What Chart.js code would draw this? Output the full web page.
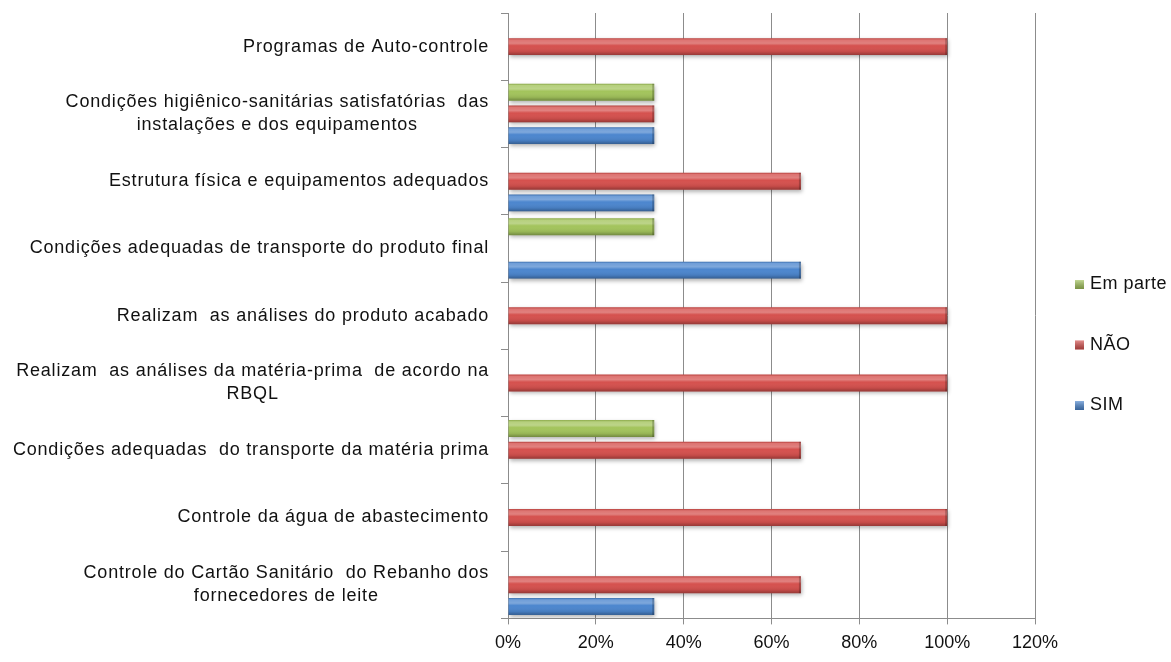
<!DOCTYPE html>
<html>
<head>
<meta charset="utf-8">
<script src="https://cdn.jsdelivr.net/npm/chart.js@4"></script>
<style>
  html, body { margin: 0; padding: 0; background: #fff; }
  #wrap { width: 1171px; height: 662px; position: relative; }
</style>
</head>
<body>
<div id="wrap"><canvas id="chart"></canvas></div>
<script>
// categorias, de cima para baixo (cada item = linhas do rótulo)
const categories = [
  ['Programas de Auto-controle'],
  ['Condições higiênico-sanitárias satisfatórias  das', 'instalações e dos equipamentos'],
  ['Estrutura física e equipamentos adequados'],
  ['Condições adequadas de transporte do produto final'],
  ['Realizam  as análises do produto acabado'],
  ['Realizam  as análises da matéria-prima  de acordo na', 'RBQL'],
  ['Condições adequadas  do transporte da matéria prima'],
  ['Controle da água de abastecimento'],
  ['Controle do Cartão Sanitário  do Rebanho dos', 'fornecedores de leite']
];

const seriesNames = ['Em parte', 'NÃO', 'SIM'];
const emParte = [0, 33.3, 0, 33.3, 0, 0, 33.3, 0, 0];
const nao = [100, 33.3, 66.7, 0, 100, 100, 66.7, 100, 66.7];
const sim = [0, 33.3, 33.3, 66.7, 0, 0, 0, 0, 33.3];
const xTicks = [0, 20, 40, 60, 80, 100, 120];

const colors = ['#A3C45C', '#D5514E', '#4C86CE'];
const FONT = '"Liberation Sans", Arial, sans-serif';
const GRID = '#8c8c8c';

// sombra + brilho "3D" nas barras
const barShade = {
  id: 'barShade',
  beforeDatasetsDraw(chart) {
    const ctx = chart.ctx;
    ctx.save();
    ctx.shadowColor = 'rgba(0,0,0,0.3)';
    ctx.shadowBlur = 4;
    ctx.shadowOffsetX = 1;
    ctx.shadowOffsetY = 2;
  },
  afterDatasetsDraw(chart) {
    const ctx = chart.ctx;
    ctx.restore();
    chart.data.datasets.forEach((ds, i) => {
      chart.getDatasetMeta(i).data.forEach(bar => {
        const { x, y, base, height } = bar.getProps(['x', 'y', 'base', 'height'], true);
        if (Math.abs(x - base) < 1) return;
        const top = y - height / 2;
        const g = ctx.createLinearGradient(0, top, 0, top + height);
        g.addColorStop(0, 'rgba(0,0,0,0.1)');
        g.addColorStop(0.1, 'rgba(255,255,255,0.2)');
        g.addColorStop(0.3, 'rgba(255,255,255,0.28)');
        g.addColorStop(0.45, 'rgba(255,255,255,0)');
        g.addColorStop(0.8, 'rgba(0,0,0,0.08)');
        g.addColorStop(1, 'rgba(0,0,0,0.3)');
        ctx.fillStyle = g;
        ctx.fillRect(base, top, x - base, height);
        ctx.fillStyle = 'rgba(0,0,0,0.22)';
        ctx.fillRect(x - 2, top, 2, height);
      });
    });
  }
};

// rótulos das categorias: bloco alinhado ao eixo, linhas centradas
const yLabels = {
  id: 'yLabels',
  afterDraw(chart) {
    const ctx = chart.ctx, sc = chart.scales.y;
    const right = chart.chartArea.left - 19;
    ctx.save();
    ctx.font = '18px ' + FONT;
    ctx.letterSpacing = '0.8px';
    ctx.fillStyle = '#111';
    ctx.textAlign = 'center';
    ctx.textBaseline = 'middle';
    categories.forEach((lines, i) => {
      const w = Math.max(...lines.map(l => ctx.measureText(l).width));
      const cx = right - w / 2;
      const cy = sc.getPixelForValue(i);
      lines.forEach((l, k) => ctx.fillText(l, cx, cy + (k - (lines.length - 1) / 2) * 23));
    });
    ctx.restore();
  }
};

// legenda lateral
const sideLegend = {
  id: 'sideLegend',
  afterDraw(chart) {
    const ctx = chart.ctx;
    const x = chart.chartArea.right + 40;
    let y = chart.chartArea.top + 271;
    ctx.save();
    ctx.font = '18px ' + FONT;
    ctx.letterSpacing = '0.5px';
    ctx.textBaseline = 'alphabetic';
    chart.data.datasets.forEach(ds => {
      ctx.fillStyle = ds.backgroundColor;
      ctx.fillRect(x, y - 4, 9, 9);
      const g = ctx.createLinearGradient(0, y - 4, 0, y + 5);
      g.addColorStop(0, 'rgba(255,255,255,0.35)');
      g.addColorStop(1, 'rgba(0,0,0,0.25)');
      ctx.fillStyle = g;
      ctx.fillRect(x, y - 4, 9, 9);
      ctx.fillStyle = '#111';
      ctx.fillText(ds.label, x + 15, y + 5);
      y += 60.5;
    });
    ctx.restore();
  }
};

new Chart(document.getElementById('chart'), {
  type: 'bar',
  data: {
    labels: categories.map(l => l.join(' ')),
    datasets: [
      { label: seriesNames[0], data: emParte, backgroundColor: colors[0] },
      { label: seriesNames[1], data: nao, backgroundColor: colors[1] },
      { label: seriesNames[2], data: sim, backgroundColor: colors[2] }
    ]
  },
  options: {
    indexAxis: 'y',
    responsive: true,
    maintainAspectRatio: false,
    animation: false,
    layout: { padding: { left: 0, right: 136, top: 13, bottom: 0 } },
    datasets: {
      bar: { categoryPercentage: 0.968, barPercentage: 0.78, borderWidth: 0 }
    },
    plugins: { legend: { display: false }, tooltip: { enabled: false } },
    scales: {
      x: {
        min: xTicks[0],
        max: xTicks[xTicks.length - 1],
        grid: { color: GRID, tickLength: 6 },
        border: { color: GRID },
        ticks: {
          stepSize: xTicks[1] - xTicks[0],
          padding: 8,
          color: '#111',
          font: { family: FONT, size: 18 },
          callback: v => v + '%'
        }
      },
      y: {
        grid: { drawOnChartArea: false, color: GRID, tickLength: 7, offset: true },
        border: { color: GRID },
        ticks: { display: false },
        afterFit(s) { s.width = 508; }
      }
    }
  },
  plugins: [barShade, yLabels, sideLegend]
});
</script>
</body>
</html>
